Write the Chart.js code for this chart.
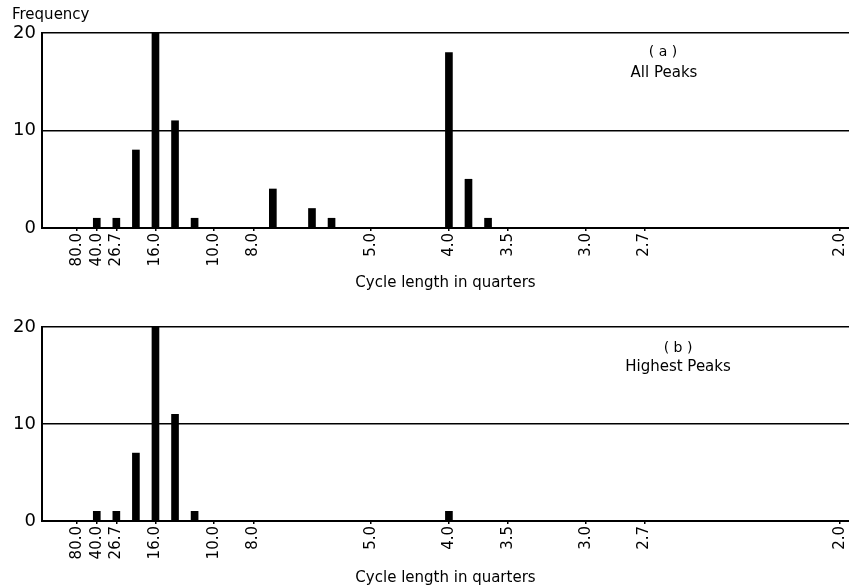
<!DOCTYPE html>
<html>
<head>
<meta charset="utf-8">
<script src="https://cdn.jsdelivr.net/npm/chart.js@4.4.1/dist/chart.umd.min.js"></script>
<style>
  html, body { margin: 0; padding: 0; background: #fff; }
  .panel { position: absolute; left: 0; width: 849px; }
  #wrapA { top: 0; height: 290px; }
  #wrapB { top: 290px; height: 295px; }
</style>
</head>
<body>
<div class="panel" id="wrapA"><canvas id="chartA"></canvas></div>
<div class="panel" id="wrapB"><canvas id="chartB"></canvas></div>
<script>
// x axis runs over harmonic number n; cycle length = 80 / n quarters
const tickHarmonics = [1, 2, 3, 5, 8, 10, 16, 20, 23, 27, 30, 40];
const tickLabels = ['80.0', '40.0', '26.7', '16.0', '10.0', '8.0', '5.0', '4.0', '3.5', '3.0', '2.7', '2.0'];

// (a) all peaks
const allHarmonics = [2, 3, 4, 5, 6, 7, 11, 13, 14, 20, 21, 22];
const allCounts = [1, 1, 8, 20, 11, 1, 4, 2, 1, 18, 5, 1];

// (b) highest peaks
const highHarmonics = [2, 3, 4, 5, 6, 7, 20];
const highCounts = [1, 1, 7, 20, 11, 1, 1];

const yTicks = [0, 10, 20];

const FONT = '"DejaVu Sans", Arial, sans-serif';

// little plugin to put the free text on the canvas
const notes = {
  id: 'notes',
  afterDraw(chart, args, opts) {
    const ctx = chart.ctx;
    ctx.save();
    ctx.fillStyle = '#000';
    ctx.textBaseline = 'middle';
    (opts.items || []).forEach(t => {
      ctx.font = t.font;
      ctx.textAlign = t.align || 'center';
      ctx.fillText(t.text, t.x, t.y);
    });
    ctx.restore();
  }
};

function makePanel(canvasId, harmonics, counts, topPad, axisHeight, items) {
  const points = harmonics.map((n, i) => ({ x: n, y: counts[i] }));
  return new Chart(document.getElementById(canvasId), {
    type: 'bar',
    data: {
      datasets: [{
        data: points,
        backgroundColor: '#000',
        borderWidth: 0,
        barThickness: 7,
        grouped: false
      }]
    },
    options: {
      responsive: true,
      maintainAspectRatio: false,
      animation: false,
      layout: { padding: { top: topPad, left: 0, right: 0, bottom: 0 } },
      plugins: {
        legend: { display: false },
        tooltip: { enabled: false },
        notes: { items: items }
      },
      scales: {
        x: {
          type: 'linear',
          offset: false,
          min: -0.8,
          max: 40.45,
          afterBuildTicks: axis => { axis.ticks = tickHarmonics.map(v => ({ value: v })); },
          afterFit: axis => {
            axis.height = axisHeight;
            // let the plot run right to the edge like the original
            axis.paddingLeft = 0;
            axis.paddingRight = 0;
          },
          ticks: {
            autoSkip: false,
            minRotation: 90,
            maxRotation: 90,
            padding: 2,
            color: '#000',
            font: { family: FONT, size: 15 },
            callback: v => tickLabels[tickHarmonics.indexOf(v)]
          },
          grid: { offset: false, drawOnChartArea: false, drawTicks: true, tickLength: 3, color: '#000', lineWidth: 1.5 },
          border: { display: true, color: '#000', width: 2 },
          title: {
            display: true,
            text: 'Cycle length in quarters',
            color: '#000',
            font: { family: FONT, size: 15 },
            padding: { top: 2, bottom: -2 }
          }
        },
        y: {
          min: 0,
          max: 20,
          afterBuildTicks: axis => { axis.ticks = yTicks.map(v => ({ value: v })); },
          afterFit: axis => { axis.width = 42; },
          ticks: {
            padding: 6,
            color: '#000',
            font: { family: FONT, size: 18 }
          },
          grid: { drawTicks: false, color: '#000', lineWidth: 1.5 },
          border: { display: true, color: '#000', width: 2 }
        }
      }
    },
    plugins: [notes]
  });
}

makePanel('chartA', allHarmonics, allCounts, 33, 62, [
  { text: 'Frequency', x: 12, y: 15, align: 'left', font: '15px ' + FONT },
  { text: '( a )', x: 663, y: 52, font: '14px ' + FONT },
  { text: 'All Peaks', x: 664, y: 73, font: '15px ' + FONT }
]);

makePanel('chartB', highHarmonics, highCounts, 37, 64, [
  { text: '( b )', x: 678, y: 58, font: '14px ' + FONT },
  { text: 'Highest Peaks', x: 678, y: 77, font: '15px ' + FONT }
]);
</script>
</body>
</html>
